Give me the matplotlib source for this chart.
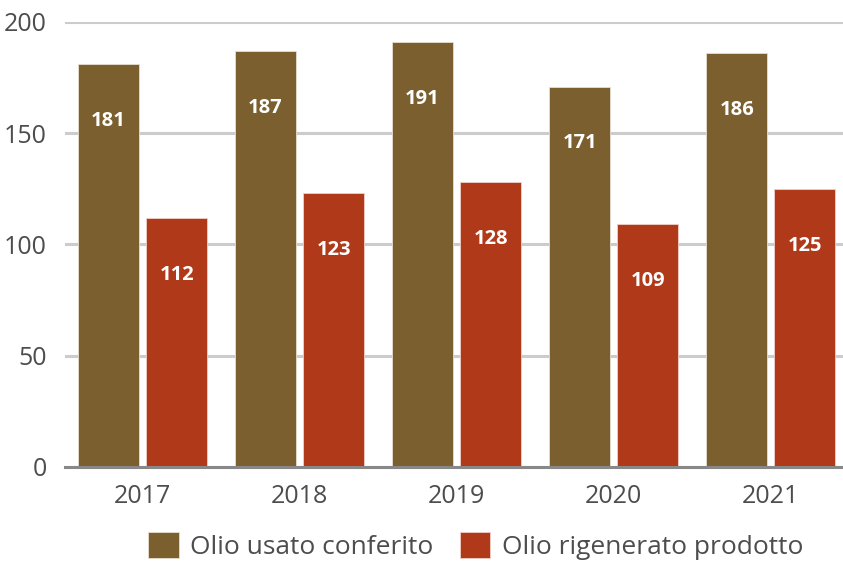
import numpy as np
import matplotlib.pyplot as plt

plt.rcParams['font.family'] = ['Open Sans', 'DejaVu Sans']

years = ['2017', '2018', '2019', '2020', '2021']
usato = [181, 187, 191, 171, 186]
rigenerato = [112, 123, 128, 109, 125]

brown = '#7B5F2E'
red = '#B0391A'

fig = plt.figure(figsize=(8.43, 5.61), dpi=100)
ax = fig.add_axes([0.0771, 0.1676, 0.9229, 0.7932])

x = np.arange(len(years))
w = 0.39
b1 = ax.bar(x - 0.217, usato, w, color=brown, edgecolor='#e8dfd0', linewidth=0.6,
            label='Olio usato conferito', zorder=3)
b2 = ax.bar(x + 0.217, rigenerato, w, color=red, edgecolor='#f0d0c8', linewidth=0.6,
            label='Olio rigenerato prodotto', zorder=3)

for bars, vals in [(b1, usato), (b2, rigenerato)]:
    for r, v in zip(bars, vals):
        ax.annotate(str(v), (r.get_x() + r.get_width() / 2, v), xytext=(0, -41),
                    textcoords='offset points', ha='center', va='center',
                    color='white', fontsize=14.5, fontweight='bold', zorder=4)

ax.set_ylim(0, 200)
ax.set_xlim(-0.494, 4.46)
ax.set_yticks([0, 50, 100, 150, 200])
ax.set_xticks(x)
ax.set_xticklabels(years)
ax.tick_params(axis='both', length=0, labelsize=18, labelcolor='#4d4d4d')
ax.tick_params(axis='y', pad=13)
ax.tick_params(axis='x', pad=12)

ax.yaxis.grid(True, color='#cccccc', linewidth=2.2, zorder=0)
ax.set_axisbelow(True)
for s in ['top', 'right', 'left']:
    ax.spines[s].set_visible(False)
ax.spines['bottom'].set_color('#888888')
ax.spines['bottom'].set_linewidth(2.2)
ax.spines['bottom'].set_zorder(5)

fig.legend(handles=[b1, b2], loc='center', bbox_to_anchor=(476 / 843, 1 - 546 / 561),
           ncol=2, frameon=False, fontsize=19, labelcolor='#4d4d4d',
           handlelength=1.15, handleheight=1.15, handletextpad=0.45, columnspacing=1.0)

fig.savefig('out.png', dpi=100)
